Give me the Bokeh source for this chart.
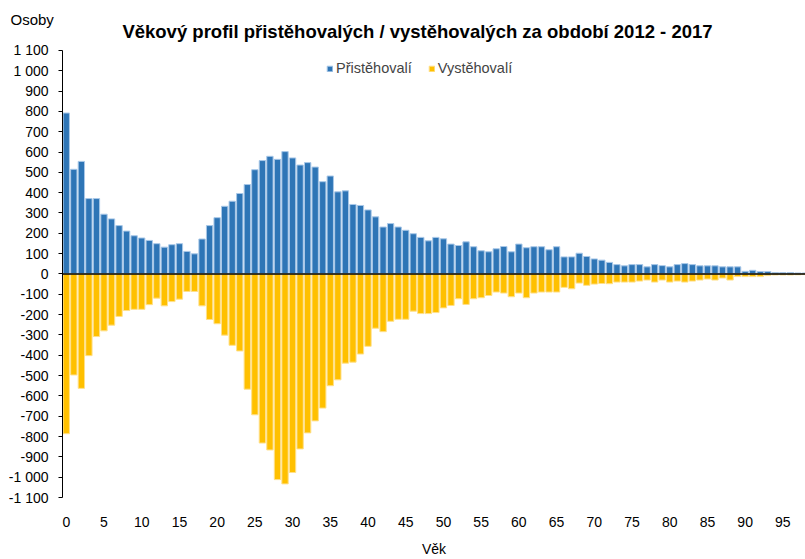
from bokeh.plotting import figure
from bokeh.models import (Range1d, FixedTicker, Span, Legend, LegendItem, Label,
                          LinearAxis, ColumnDataSource, Title)
from bokeh.embed import file_html
from bokeh.resources import INLINE

title_text = "Věkový profil přistěhovalých / vystěhovalých za období 2012 - 2017"
y_label = "Osoby"
x_label = "Věk"
series_names = ["Přistěhovalí", "Vystěhovalí"]

ages = list(range(0, 99))
immigrants = [792, 515, 554, 371, 371, 294, 271, 238, 211, 188,
              177, 165, 149, 132, 144, 149, 111, 99, 172, 238,
              277, 333, 358, 396, 440, 513, 558, 579, 564, 602,
              571, 536, 548, 526, 454, 482, 404, 409, 342, 337,
              315, 281, 231, 248, 231, 215, 198, 180, 163, 180,
              173, 147, 140, 158, 134, 114, 109, 124, 135, 109,
              147, 129, 134, 134, 119, 134, 84, 84, 102, 86,
              74, 68, 57, 46, 40, 46, 46, 35, 46, 41,
              35, 46, 51, 46, 40, 40, 40, 35, 35, 35,
              13, 18, 12, 12, 7, 7, 7, 5, 5]
emigrants = [-786, -497, -563, -402, -308, -280, -252, -209, -180, -174,
             -174, -151, -119, -157, -136, -124, -86, -86, -157, -224,
             -245, -301, -351, -379, -567, -693, -832, -866, -1012, -1033,
             -977, -861, -782, -723, -660, -550, -521, -439, -434, -394,
             -356, -267, -284, -233, -223, -223, -183, -195, -195, -190,
             -167, -155, -122, -150, -122, -117, -106, -89, -94, -112,
             -94, -117, -94, -89, -89, -89, -66, -73, -45, -56,
             -50, -47, -48, -40, -40, -40, -35, -30, -40, -30,
             -40, -35, -40, -35, -30, -25, -30, -20, -30, -13,
             -13, -13, -13, -8, -5, -5, -5, -4, -3]
y_ticks = list(range(-1100, 1101, 100))
x_ticks = list(range(0, 96, 5))

FONT = "'Liberation Sans', Arial, sans-serif"
BLUE = "#2E75B6"
YELLOW = "#FFC000"

# layout (pixels)
W, H = 805, 559
TOP = 12          # frame top
OSOBY_BOTTOM = 27 # bottom of the "Osoby" text box
AX_TOP = 50       # pixel where 1100 sits
AX_BOT = 498      # pixel where -1100 sits
LEFT = 62
per_px = 2200 / (AX_BOT - AX_TOP)
y_top = 1100 + (AX_TOP - TOP) * per_px

src = ColumnDataSource(dict(age=ages, imm=immigrants, emi=emigrants))

p = figure(width=W, height=H, output_backend="svg", toolbar_location=None,
           x_range=Range1d(-0.5, 98.0), y_range=Range1d(-1100, y_top),
           min_border_left=LEFT, min_border_right=0, min_border_top=TOP,
           min_border_bottom=H - AX_BOT, x_axis_location=None, y_axis_location=None,
           title=None)
p.outline_line_color = None
p.xgrid.visible = False
p.ygrid.visible = False

r1 = p.vbar(x="age", top="imm", bottom=0, width=0.84, source=src,
            fill_color=BLUE, line_color="#A9C8E8", line_width=1)
r2 = p.vbar(x="age", top="emi", bottom=0, width=0.84, source=src,
            fill_color=YELLOW, line_color="#FFE08A", line_width=1)

p.add_layout(Span(location=0, dimension="width", line_color="black", line_width=1.5))

yaxis = LinearAxis(ticker=FixedTicker(ticks=y_ticks), bounds=(-1100, 1100))
yaxis.major_label_overrides = {t: (("-" if t < 0 else "") + (f"{abs(t):,}".replace(",", " "))) for t in y_ticks}
yaxis.major_tick_in = 0
yaxis.major_tick_out = 4
yaxis.minor_tick_out = 0
yaxis.minor_tick_in = 0
yaxis.axis_line_color = "black"
yaxis.major_tick_line_color = "black"
yaxis.major_label_text_font = FONT
yaxis.major_label_text_font_size = "14px"
yaxis.major_label_text_color = "black"
yaxis.major_label_standoff = 10
p.add_layout(yaxis, "left")

xaxis = LinearAxis(ticker=FixedTicker(ticks=x_ticks))
xaxis.axis_line_color = None
xaxis.major_tick_line_color = None
xaxis.minor_tick_line_color = None
xaxis.major_label_text_font = FONT
xaxis.major_label_text_font_size = "14px"
xaxis.major_label_text_color = "black"
xaxis.major_label_standoff = 13
xaxis.axis_label = x_label
xaxis.axis_label_text_font = FONT
xaxis.axis_label_text_font_size = "14px"
xaxis.axis_label_text_font_style = "normal"
xaxis.axis_label_text_color = "black"
xaxis.axis_label_standoff = 11
p.add_layout(xaxis, "below")

osoby = Title(text=y_label, align="left", offset=-52,
              standoff=-2 * (OSOBY_BOTTOM - TOP),
              text_font=FONT, text_font_size="15px", text_font_style="normal",
              text_color="black")
p.add_layout(osoby, "above")

p.add_layout(Label(x=46.56, y=1100 + (AX_TOP - 31) * per_px, text=title_text,
                   text_align="center", text_baseline="middle", text_font=FONT,
                   text_font_size="18.5px", text_font_style="bold", text_color="black"))

legend = Legend(items=[LegendItem(label=series_names[0], renderers=[r1]),
                       LegendItem(label=series_names[1], renderers=[r2])],
                orientation="horizontal", location=(264, 421),
                glyph_width=7, glyph_height=7, label_standoff=3, spacing=16,
                padding=0, margin=0, border_line_alpha=0, background_fill_alpha=0,
                label_text_font=FONT, label_text_font_size="14.5px")
p.add_layout(legend, "center")

open("out.html", "w").write(file_html(p, INLINE))
